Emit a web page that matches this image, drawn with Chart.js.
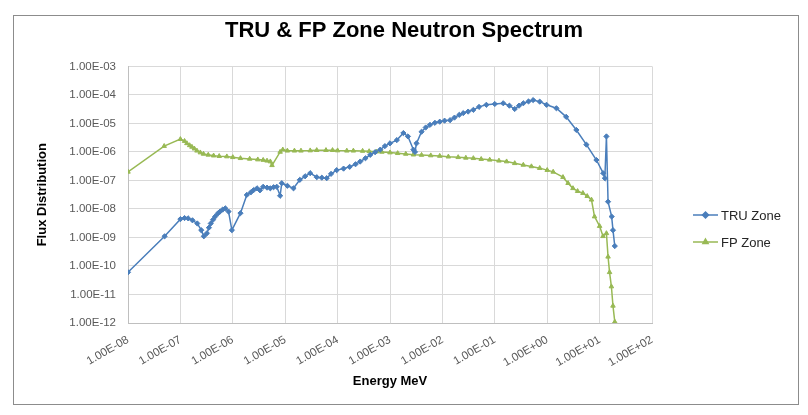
<!DOCTYPE html>
<html>
<head>
<meta charset="utf-8">
<script src="https://cdn.jsdelivr.net/npm/chart.js@4.4.1/dist/chart.umd.min.js"></script>
<style>
  html, body { margin: 0; padding: 0; background: #fff; }
  #wrap { width: 808px; height: 415px; }
</style>
</head>
<body>
<div id="wrap"><canvas id="chart" width="808" height="415"></canvas></div>
<script>
// ---- datos ----
const truEnergy = [1e-8, 5e-8, 1e-7, 1.2e-7, 1.4e-7, 1.7e-7, 2.1e-7, 2.5e-7, 2.8e-7, 3.2e-7, 3.5e-7, 3.8e-7, 4.2e-7, 4.6e-7, 5.2e-7, 5.7e-7, 6.4e-7, 7.2e-7, 8.3e-7, 9.6e-7,
  1.4e-6, 1.85e-6, 2.2e-6, 2.5e-6, 2.9e-6, 3.3e-6, 3.8e-6, 4.5e-6, 5.2e-6, 6e-6, 6.9e-6, 8e-6, 8.6e-6, 1.1e-5, 1.44e-5, 1.9e-5, 2.4e-5, 3e-5, 4e-5, 5e-5, 6.2e-5, 7.5e-5, 9.6e-5,
  1.3e-4, 1.7e-4, 2.2e-4, 2.7e-4, 3.4e-4, 4.2e-4, 5.2e-4, 6.5e-4, 8e-4, 1e-3, 1.35e-3, 1.8e-3, 2.2e-3, 2.8e-3, 3e-3, 3.2e-3, 4e-3, 4.8e-3, 5.8e-3, 7.2e-3, 8.9e-3,
  1.1e-2, 1.4e-2, 1.7e-2, 2.1e-2, 2.5e-2, 3.1e-2, 3.9e-2, 5e-2, 6.9e-2, 0.1, 0.145, 0.19, 0.24, 0.29, 0.35, 0.44, 0.54, 0.72, 0.97,
  1.5, 2.3, 3.6, 5.6, 8.7, 11.7, 12.6, 13.5, 14.5, 17, 18, 19.5];
const truFlux = [6e-11, 1.1e-9, 4.4e-9, 4.8e-9, 4.7e-9, 4.0e-9, 3.1e-9, 1.8e-9, 1.1e-9, 1.4e-9, 2.2e-9, 3.1e-9, 4.2e-9, 5.4e-9, 7.0e-9, 8.1e-9, 9.5e-9, 1.05e-8, 8.1e-9, 1.8e-9,
  7.1e-9, 3.1e-8, 3.8e-8, 4.6e-8, 5.3e-8, 4.5e-8, 6e-8, 5.6e-8, 5.3e-8, 5.8e-8, 6e-8, 2.9e-8, 8e-8, 6.5e-8, 5.3e-8, 1.05e-7, 1.4e-7, 1.8e-7, 1.3e-7, 1.25e-7, 1.2e-7, 1.7e-7, 2.3e-7,
  2.6e-7, 3e-7, 3.7e-7, 4.6e-7, 6e-7, 7.9e-7, 9.8e-7, 1.2e-6, 1.6e-6, 2e-6, 2.6e-6, 4.6e-6, 3.5e-6, 1.2e-6, 1e-6, 2e-6, 5.1e-6, 7.2e-6, 8.9e-6, 1.05e-5, 1.15e-5,
  1.25e-5, 1.3e-5, 1.6e-5, 2e-5, 2.3e-5, 2.6e-5, 3e-5, 3.8e-5, 4.5e-5, 4.8e-5, 5.1e-5, 4.2e-5, 3.2e-5, 4.2e-5, 5.1e-5, 5.9e-5, 6.6e-5, 5.8e-5, 4.5e-5,
  3.4e-5, 1.7e-5, 5.9e-6, 1.8e-6, 5.2e-7, 1.8e-7, 1.2e-7, 3.5e-6, 1.8e-8, 5.4e-9, 1.8e-9, 5e-10];

const fpEnergy = [1e-8, 4.9e-8, 1e-7, 1.2e-7, 1.33e-7, 1.5e-7, 1.66e-7, 1.85e-7, 2.07e-7, 2.4e-7, 2.76e-7, 3.4e-7, 4.3e-7, 5.5e-7, 7.7e-7,
  1e-6, 1.4e-6, 2.1e-6, 3e-6, 3.8e-6, 4.5e-6, 5.2e-6, 5.6e-6, 8e-6, 9e-6, 1.1e-5, 1.5e-5, 2e-5, 3e-5, 4e-5, 6e-5, 8e-5,
  1e-4, 1.5e-4, 2e-4, 3e-4, 4e-4, 5.5e-4, 7e-4, 1e-3, 1.4e-3, 2e-3, 2.8e-3, 4e-3, 6e-3, 8.9e-3,
  1.3e-2, 2e-2, 2.8e-2, 3.9e-2, 5.5e-2, 8e-2, 0.12, 0.168, 0.24, 0.35, 0.5, 0.72,
  1, 1.3, 2, 2.5, 3.1, 3.8, 4.8, 5.8, 7, 8, 10, 11.6, 13.5, 14.5, 15.5, 16.8, 18, 19.5];
const fpFlux = [2e-7, 1.6e-6, 2.8e-6, 2.4e-6, 2e-6, 1.7e-6, 1.5e-6, 1.3e-6, 1.1e-6, 9.5e-7, 8.5e-7, 7.9e-7, 7.4e-7, 7.1e-7, 6.9e-7,
  6.5e-7, 6e-7, 5.7e-7, 5.4e-7, 5.2e-7, 4.9e-7, 4.6e-7, 3.4e-7, 1e-6, 1.2e-6, 1.1e-6, 1.1e-6, 1.1e-6, 1.12e-6, 1.15e-6, 1.15e-6, 1.15e-6,
  1.12e-6, 1.1e-6, 1.1e-6, 1.08e-6, 1.05e-6, 1.02e-6, 1e-6, 9.5e-7, 9e-7, 8.5e-7, 8e-7, 7.8e-7, 7.5e-7, 7.2e-7,
  6.8e-7, 6.5e-7, 6.2e-7, 6e-7, 5.6e-7, 5.3e-7, 4.9e-7, 4.6e-7, 4e-7, 3.5e-7, 3.1e-7, 2.7e-7,
  2.3e-7, 2e-7, 1.3e-7, 8e-8, 5.3e-8, 4.2e-8, 3.6e-8, 2.8e-8, 2.1e-8, 5.4e-9, 2.5e-9, 1.1e-9, 1.4e-9, 2.1e-10, 6e-11, 1.9e-11, 4e-12, 1.1e-12];

const seriesNames = ['TRU Zone', 'FP Zone'];
const xTicks = [1e-8, 1e-7, 1e-6, 1e-5, 1e-4, 1e-3, 1e-2, 1e-1, 1e0, 1e1, 1e2];
const yTicks = [1e-12, 1e-11, 1e-10, 1e-9, 1e-8, 1e-7, 1e-6, 1e-5, 1e-4, 1e-3];

const AZUL = '#4a7ebb';
const VERDE = '#98b954';
const FUENTE = "'Liberation Sans', Arial, sans-serif";

function puntos(xs, ys) {
    return xs.map((x, i) => ({ x: x, y: ys[i] }));
}

// formato tipo Excel: 1.00E-03
function formatoExcel(v) {
    const e = Math.round(Math.log10(v));
    return '1.00E' + (e < 0 ? '-' : '+') + String(Math.abs(e)).padStart(2, '0');
}

// marco exterior + leyenda dibujada a mano
const marcoYLeyenda = {
    id: 'marcoYLeyenda',
    beforeDraw(chart) {
        const ctx = chart.ctx;
        ctx.save();
        ctx.fillStyle = '#fff';
        ctx.fillRect(0, 0, chart.width, chart.height);
        ctx.strokeStyle = '#8c8c8c';
        ctx.lineWidth = 1;
        ctx.strokeRect(13.5, 15.5, 785, 389);
        ctx.restore();
    },
    afterDraw(chart) {
        const ctx = chart.ctx;
        ctx.save();
        chart.data.datasets.forEach((ds, i) => {
            const y = 215 + i * 27;
            ctx.strokeStyle = ds.borderColor;
            ctx.lineWidth = 1.5;
            ctx.beginPath();
            ctx.moveTo(693, y);
            ctx.lineTo(718, y);
            ctx.stroke();
            ctx.fillStyle = ds.pointBackgroundColor;
            ctx.strokeStyle = ds.borderColor;
            Chart.helpers.drawPoint(ctx, { pointStyle: ds.pointStyle, radius: 3, rotation: 0, borderWidth: 1 }, 705.5, y);
            ctx.fillStyle = '#262626';
            ctx.font = '13px ' + FUENTE;
            ctx.textBaseline = 'middle';
            ctx.fillText(ds.label, 721, y + 1);
        });
        ctx.restore();
    }
};

new Chart(document.getElementById('chart'), {
    type: 'scatter',
    data: {
        datasets: [
            { label: seriesNames[0], data: puntos(truEnergy, truFlux), showLine: true,
              borderColor: AZUL, backgroundColor: AZUL, pointBackgroundColor: AZUL, borderWidth: 1.5,
              pointStyle: 'rectRot', pointRadius: 2.6, pointBorderWidth: 1, tension: 0 },
            { label: seriesNames[1], data: puntos(fpEnergy, fpFlux), showLine: true,
              borderColor: VERDE, backgroundColor: VERDE, pointBackgroundColor: VERDE, borderWidth: 1.5,
              pointStyle: 'triangle', pointRadius: 2.6, pointBorderWidth: 1, tension: 0 }
        ]
    },
    options: {
        responsive: false,
        animation: false,
        layout: { padding: 0 },
        plugins: {
            legend: { display: false },
            tooltip: { enabled: false },
            title: {
                display: true,
                text: 'TRU & FP Zone Neutron Spectrum',
                color: '#000',
                font: { family: FUENTE, size: 22, weight: 'bold' },
                padding: { top: 18, bottom: 22 }
            }
        },
        scales: {
            x: {
                type: 'logarithmic', position: 'bottom', min: 1e-8, max: 1e2,
                afterBuildTicks: s => { s.ticks = xTicks.map(v => ({ value: v })); },
                afterFit: s => { s.height = 92; },
                ticks: { autoSkip: false, minRotation: 30, maxRotation: 30, padding: 10,
                         color: '#595959', font: { family: FUENTE, size: 11.5 },
                         callback: v => formatoExcel(v) },
                grid: { color: '#d9d9d9', drawTicks: false },
                border: { color: '#bfbfbf' },
                title: { display: true, text: 'Energy MeV', color: '#000',
                         font: { family: FUENTE, size: 13, weight: 'bold' }, padding: { top: 0, bottom: 26 } }
            },
            y: {
                type: 'logarithmic', position: 'left', min: 1e-12, max: 1e-3,
                afterBuildTicks: s => { s.ticks = yTicks.map(v => ({ value: v })); },
                afterFit: s => { s.width = 128; },
                ticks: { autoSkip: false, padding: 12, color: '#595959',
                         font: { family: FUENTE, size: 11.5 },
                         callback: v => formatoExcel(v) },
                grid: { color: '#d9d9d9', drawTicks: false },
                border: { color: '#bfbfbf' },
                title: { display: true, text: 'Flux Distribution', color: '#000',
                         font: { family: FUENTE, size: 13, weight: 'bold' }, padding: { top: 35, bottom: 0 } }
            },
            // eje vacio a la derecha: deja sitio para la leyenda
            hueco: {
                type: 'linear', position: 'right', min: 0, max: 1,
                afterFit: s => { s.width = 156; },
                ticks: { display: false },
                grid: { display: false, drawTicks: false },
                border: { display: false }
            }
        }
    },
    plugins: [marcoYLeyenda]
});
</script>
</body>
</html>
